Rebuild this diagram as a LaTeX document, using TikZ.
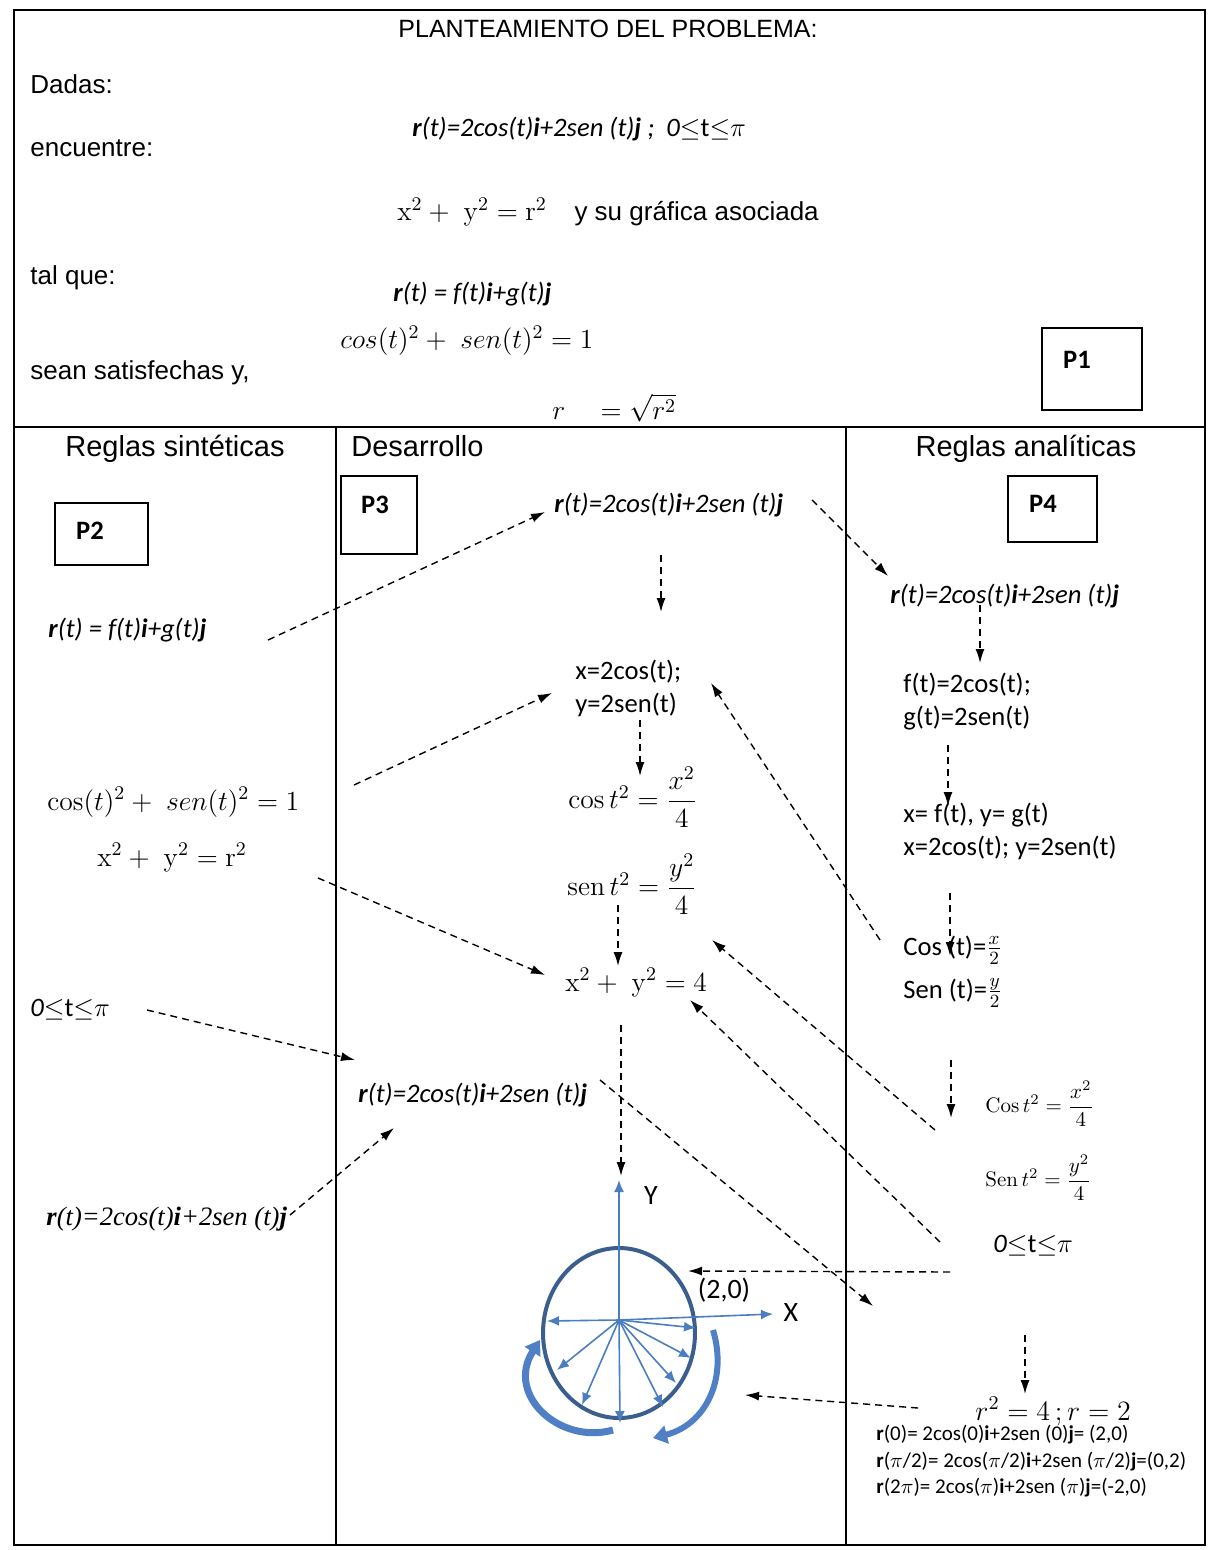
\RequirePackage{fix-cm}
\documentclass[tikz,border=0pt]{standalone}
\usepackage{amsmath}
\usepackage[no-math]{fontspec}
\setmainfont{Liberation Sans}
\newfontfamily\calf{Carlito}
\newfontfamily\timesf{Liberation Serif}
\usetikzlibrary{arrows.meta}
\definecolor{circblue}{HTML}{3A5F8F}
\definecolor{radblue}{HTML}{4A7EC0}
\definecolor{curvblue}{HTML}{4F7FC4}
\begin{document}
\begin{tikzpicture}[x=0.5pt,y=-0.5pt,
  frame/.style={line width=1.2pt},
  colline/.style={line width=1pt},
  pbox/.style={draw, line width=0.8pt, inner sep=0pt},
  dar/.style={line width=0.7pt, dash pattern=on 3.5pt off 2.5pt, -{Latex[length=7pt,width=4.5pt]}},
  radar/.style={radblue, line width=0.8pt, -{Latex[length=6pt,width=5pt]}},
  curv/.style={curvblue, -{Triangle[length=7pt,width=9pt]}},
  hdr/.style={font=\fontsize{14.5}{17}\selectfont, inner sep=0pt},
  txt/.style={font=\fontsize{13}{15}\selectfont, inner sep=0pt},
  cal/.style={font=\calf\fontsize{13.3}{16}\selectfont, inner sep=0pt},
  calbig/.style={font=\calf\fontsize{14}{17}\selectfont, inner sep=0pt},
  calit/.style={font=\calf\itshape\fontsize{13.3}{16}\selectfont, inner sep=0pt},
  mth/.style={font=\fontsize{13.8}{16}\selectfont, inner sep=0pt},
  mthsm/.style={font=\fontsize{10.5}{13}\selectfont, inner sep=0pt},
  mthbig/.style={font=\fontsize{14}{17}\selectfont, inner sep=0pt},
  plabel/.style={font=\calf\bfseries\fontsize{13.3}{16}\selectfont, inner sep=0pt},
  small/.style={font=\calf\fontsize{10.5}{12}\selectfont, inner sep=0pt},
  tms/.style={font=\timesf\itshape\fontsize{13.3}{16}\selectfont, inner sep=0pt},
]
\useasboundingbox (0,0) rectangle (1208,1550);
% frame and columns
\draw[frame] (14,10) rectangle (1205,1545);
\draw[colline] (14,427) -- (1205,427);
\draw[colline] (336,427) -- (336,1545);
\draw[colline] (846,427) -- (846,1545);

% ---------- top section ----------
\node[txt, font=\fontsize{12.5}{15}\selectfont, anchor=base] (title) at (608,38) {PLANTEAMIENTO DEL PROBLEMA:};
\node[txt, anchor=base west] (dadas) at (30,94) {Dadas:};
\node[calit, anchor=base west] (rtop) at (412,137) {\textbf{r}(t)=2cos(t)\textbf{i}+2sen (t)\textbf{j} ;\ \ 0$\leq$\textup{t}$\leq$$\pi$};
\node[txt, anchor=base west] (enc) at (30,157) {encuentre:};
\node[mth, anchor=base west] (xyr) at (397,221) {$\mathrm{x}^2+\ \mathrm{y}^2=\mathrm{r}^2$\quad{\fontsize{13}{15}\selectfont y su gráfica asociada}};
\node[txt, anchor=base west] (talque) at (30,285) {tal que:};
\node[calit, anchor=base west] (rfg) at (393,302) {\textbf{r}(t) = f(t)\textbf{i}+g(t)\textbf{j}};
\node[mth, anchor=base west] (costop) at (340,349) {$cos(t)^2+\ sen(t)^2=1$};
\node[txt, anchor=base west] (sean) at (30,380) {sean satisfechas y,};
\node[mth, anchor=base west] (rsq) at (552,420) {$r\quad=\sqrt{r^2}$};
\node[pbox, minimum width=50pt, minimum height=41pt] (p1box) at (1092,369) {};
\node[plabel] (p1) at (1077,360) {P1};

% ---------- left column ----------
\node[hdr, anchor=base] (hsint) at (175,457) {Reglas sintéticas};
\node[pbox, minimum width=46.5pt, minimum height=31pt] (p2box) at (101.5,534) {};
\node[plabel] (p2) at (90,531) {P2};
\node[calit, anchor=base west] (rfgL) at (48,637) {\textbf{r}(t) = f(t)\textbf{i}+g(t)\textbf{j}};
\node[mth, anchor=base west] (cosL) at (47,810) {$\cos(t)^2+\ sen(t)^2=1$};
\node[mth, anchor=base west] (xyrL) at (97,866) {$\mathrm{x}^2+\ \mathrm{y}^2=\mathrm{r}^2$};
\node[calit, anchor=base west] (tL) at (30,1016) {0$\leq$\textup{t}$\leq$$\pi$};
\node[tms, anchor=base west] (rTimes) at (46,1225) {\textbf{r}(t)=2cos(t)\textbf{i}+2sen (t)\textbf{j}};

% ---------- middle column ----------
\node[hdr, anchor=base west] (hdes) at (351,457) {Desarrollo};
\node[pbox, minimum width=38pt, minimum height=39pt] (p3box) at (379,515) {};
\node[plabel] (p3) at (375,505) {P3};
\node[calit, anchor=base west] (rM1) at (554,513) {\textbf{r}(t)=2cos(t)\textbf{i}+2sen (t)\textbf{j}};
\node[cal, anchor=base west] (xM) at (575,679) {x=2cos(t);};
\node[cal, anchor=base west] (yM) at (575,712) {y=2sen(t)};
\node[mth, anchor=west] (cosM) at (568,797) {$\cos t^2=\dfrac{x^2}{4}$};
\node[mth, anchor=west] (senM) at (567,884) {$\mathrm{sen}\,t^2=\dfrac{y^2}{4}$};
\node[mth, anchor=base west] (xy4) at (565,991) {$\mathrm{x}^2+\ \mathrm{y}^2=4$};
\node[calit, anchor=base west] (rM2) at (358,1102) {\textbf{r}(t)=2cos(t)\textbf{i}+2sen (t)\textbf{j}};

% ---------- right column ----------
\node[hdr, anchor=base] (hana) at (1026,457) {Reglas analíticas};
\node[pbox, minimum width=44.5pt, minimum height=33pt] (p4box) at (1052.5,509) {};
\node[plabel] (p4) at (1043,504) {P4};
\node[calit, anchor=base west] (rR) at (890,603) {\textbf{r}(t)=2cos(t)\textbf{i}+2sen (t)\textbf{j}};
\node[cal, anchor=base west] (fR) at (903,692) {f(t)=2cos(t);};
\node[cal, anchor=base west] (gR) at (903,725) {g(t)=2sen(t)};
\node[cal, anchor=base west] (xfR) at (903,822) {x= f(t), y= g(t)};
\node[cal, anchor=base west] (x2R) at (903,855) {x=2cos(t); y=2sen(t)};
\node[cal, anchor=base west] (cosR) at (903,955) {Cos (t)=$\frac{x}{2}$};
\node[cal, anchor=base west] (senR) at (903,998) {Sen (t)=$\frac{y}{2}$};
\node[mthsm, anchor=west] (cost2R) at (985,1104) {$\mathrm{Cos}\,t^2=\dfrac{x^2}{4}$};
\node[mthsm, anchor=west] (sent2R) at (985,1178) {$\mathrm{Sen}\,t^2=\dfrac{y^2}{4}$};
\node[calit, anchor=base west] (tR) at (993,1252) {0$\leq$\textup{t}$\leq$$\pi$};
\node[mthbig, anchor=base west] (r4) at (975,1420) {$r^2=4\,;r=2$};
\node[small, anchor=base west] (r0) at (876,1440) {\textbf{r}(0)= 2cos(0)\textbf{i}+2sen (0)\textbf{j}= (2,0)};
\node[small, anchor=base west] (rpi2) at (876,1467) {\textbf{r}($\pi$/2)= 2cos($\pi$/2)\textbf{i}+2sen ($\pi$/2)\textbf{j}=(0,2)};
\node[small, anchor=base west] (r2pi) at (876,1493) {\textbf{r}(2$\pi$)= 2cos($\pi$)\textbf{i}+2sen ($\pi$)\textbf{j}=(-2,0)};

% ---------- dashed arrows ----------
\foreach \n/\sx/\sy/\ex/\ey in {
  1/268/640/545/512, 2/812/500/888/576, 3/661/555/661/612, 4/354/785/552/693,
  5/880/940/711/683, 6/640/720/640/776, 7/618/905/618/966, 8/318/878/545/975,
  9/935/1130/712/940, 10/940/1242/690/1000, 11/147/1010/355/1060, 12/290/1215/394/1128,
  13/621/1025/621/1176, 14/600/1080/873/1306, 15/950/1272/688/1271, 16/918/1408/745/1395,
  17/980/605/980/663, 18/948/745/948/806, 19/950/893/950/956, 20/951/1060/951/1118,
  21/1025/1335/1025/1394}{
  \coordinate (a\n s) at (\sx,\sy);
  \coordinate (a\n e) at (\ex,\ey);
  \draw[dar] (a\n s) -- (a\n e);
}

% ---------- graph ----------
\draw[circblue, line width=2pt] (619,1333) ellipse [x radius=76, y radius=85];
\coordinate (O) at (619,1320);
\coordinate (Ytip) at (619,1180);
\coordinate (Xtip) at (773,1314);
\draw[radar] (O) -- (Ytip);
\draw[radar] (O) -- (Xtip);
\foreach \n/\ex/\ey in {1/547/1321, 2/557/1370, 3/582/1405, 4/620/1423,
  5/663/1407, 6/676/1383, 7/691/1358, 8/696/1328}{
  \coordinate (rad\n) at (\ex,\ey);
  \draw[radar] (O) -- (rad\n);
}
\coordinate (cL1) at (613,1430);
\coordinate (cL2) at (540,1340);
\draw[curv, line width=3.5pt] (cL1) .. controls (560,1445) and (505,1395) .. (cL2);
\coordinate (cR1) at (713,1330);
\coordinate (cR2) at (653,1438);
\draw[curv, line width=3pt] (cR1) .. controls (728,1380) and (705,1425) .. (cR2);
\node[calbig] (Ylab) at (651,1196) {Y};
\node[calbig] (Xlab) at (791,1313) {X};
\node[calbig] (p20) at (724,1290) {(2,0)};
\end{tikzpicture}
\end{document}
